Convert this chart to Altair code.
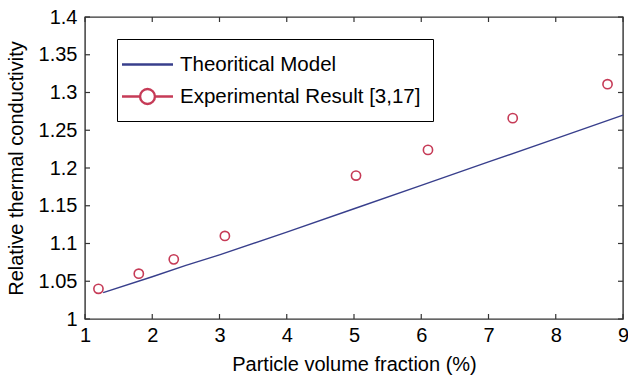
import altair as alt
import pandas as pd

FONT = "Liberation Sans"

# ---- data ----
theory_x = [1.27, 2.0, 2.5, 3.0, 4.0, 5.0, 6.0, 7.0, 8.0, 9.0]
theory_y = [1.035, 1.056, 1.071, 1.085, 1.115, 1.146, 1.177, 1.208, 1.239, 1.270]

exp_x = [1.2, 1.8, 2.32, 3.08, 5.03, 6.1, 7.36, 8.77]
exp_y = [1.04, 1.06, 1.079, 1.11, 1.19, 1.224, 1.266, 1.311]

series_names = ["Theoritical Model", "Experimental Result [3,17]"]
series_colors = ["#383f8c", "#c63b57"]

x_ticks = [1, 2, 3, 4, 5, 6, 7, 8, 9]
y_ticks = [1.0, 1.05, 1.1, 1.15, 1.2, 1.25, 1.3, 1.35, 1.4]

W, H = 538, 302

theory = pd.DataFrame({"x": theory_x, "y": theory_y, "series": series_names[0]})
exp = pd.DataFrame({"x": exp_x, "y": exp_y, "series": series_names[1]})
xt = pd.DataFrame({"x": x_ticks})
yt = pd.DataFrame({"y": y_ticks})

xscale = alt.Scale(domain=[1, 9], nice=False, zero=False)
yscale = alt.Scale(domain=[1, 1.4], nice=False, zero=False)

x_axis = alt.Axis(values=x_ticks, format="d", title="Particle volume fraction (%)", grid=False,
                  ticks=False, tickSize=0, domain=False, labelPadding=6, labelOverlap=False,
                  labelFlush=False,
                  titleY=51, titleBaseline="alphabetic")
y_axis = alt.Axis(values=y_ticks, format=".2~f", title="Relative thermal conductivity",
                  grid=False, ticks=False, tickSize=0, domain=False, labelPadding=8,
                  labelOverlap=False, labelFlush=False,
                  titleX=-69, titleY=H / 2, titleAlign="center", titleBaseline="middle",
                  titleAngle=270)

# legend symbol paths (unit box scaled by sqrt(symbolSize)/2 = 12 px)
line_path = "M-2.125,0H2.125"
circ_path = ("M-2.125,0H-0.62M0.62,0H2.125M-0.62,0A0.62,0.62,0,1,1,0.62,0"
             "A0.62,0.62,0,1,1,-0.62,0")

legend = alt.Legend(
    title=None, orient="none", legendX=32, legendY=22,
    strokeColor="black", fillColor="white", padding=12,
    labelFont=FONT, labelFontSize=20.5, labelColor="black", labelOffset=19,
    labelLimit=400,
    symbolSize=576, symbolStrokeWidth=2.4, symbolOffset=5, rowPadding=8,
    symbolFillColor="transparent",
    symbolType={"expr": f"datum.value === '{series_names[0]}' ? '{line_path}' : '{circ_path}'"},
)

color = alt.Color("series:N", scale=alt.Scale(domain=series_names, range=series_colors),
                  legend=legend)

line = alt.Chart(theory).mark_line(strokeWidth=1.4).encode(
    x=alt.X("x:Q", scale=xscale, axis=x_axis),
    y=alt.Y("y:Q", scale=yscale, axis=y_axis),
    color=color,
)

pts = alt.Chart(exp).mark_point(shape="circle", filled=False, size=85, strokeWidth=1.6, opacity=1).encode(
    x=alt.X("x:Q", scale=xscale, axis=x_axis),
    y=alt.Y("y:Q", scale=yscale, axis=y_axis),
    color=color,
)

tick_style = dict(color="#333333", strokeWidth=1.2)
xt_bottom = alt.Chart(xt).mark_rule(**tick_style).encode(
    x=alt.X("x:Q", scale=xscale, axis=x_axis), y=alt.value(H), y2=alt.value(H - 5))
xt_top = alt.Chart(xt).mark_rule(**tick_style).encode(
    x=alt.X("x:Q", scale=xscale, axis=x_axis), y=alt.value(0), y2=alt.value(5))
yt_left = alt.Chart(yt).mark_rule(**tick_style).encode(
    y=alt.Y("y:Q", scale=yscale, axis=y_axis), x=alt.value(0), x2=alt.value(5))
yt_right = alt.Chart(yt).mark_rule(**tick_style).encode(
    y=alt.Y("y:Q", scale=yscale, axis=y_axis), x=alt.value(W - 5), x2=alt.value(W))

chart = alt.layer(line, pts, xt_bottom, xt_top, yt_left, yt_right).properties(
    width=W, height=H,
    autosize=alt.AutoSizeParams(type="none"),
    padding={"left": 85, "top": 17, "right": 5, "bottom": 58},
    background="white",
).configure_view(
    stroke="#333333", strokeWidth=1.4
).configure_axis(
    labelFont=FONT, labelFontSize=20, labelColor="black", labelOverlap=False,
    titleFont=FONT, titleFontSize=20, titleColor="black", titleFontWeight="normal",
)

chart.save("out.html", embed_options={"renderer": "svg", "actions": False})
